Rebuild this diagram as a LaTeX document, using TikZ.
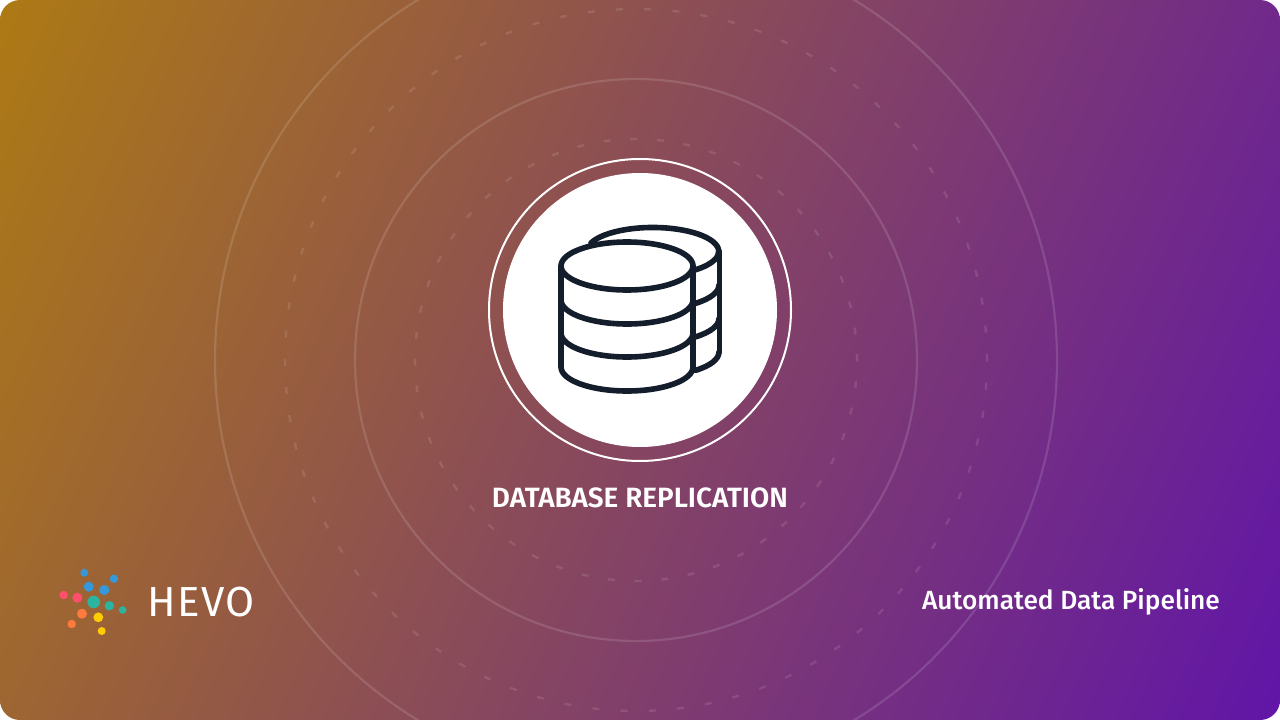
\documentclass[tikz,border=0pt]{standalone}
\usepackage{fontspec}
\setmainfont{Fira Sans}
\newfontfamily\logofont[LetterSpace=3]{Fira Sans}
\newfontfamily\semifont{Fira Sans SemiBold}
\newfontfamily\medfont{Fira Sans Medium}
\definecolor{gradA}{HTML}{AD7A14}
\definecolor{gradB}{HTML}{6115A8}
\definecolor{ink}{HTML}{141D2B}
\definecolor{dotblue}{HTML}{3498DB}
\definecolor{dotpink}{HTML}{FF4F6D}
\definecolor{dotteal}{HTML}{2BB5A0}
\definecolor{dotorange}{HTML}{FF7A3D}
\definecolor{dotyellow}{HTML}{FFCC00}
\tikzset{
  x=1pt,y=-1pt,
  ringline/.style={draw=white,draw opacity=.13,line width=2.2pt},
  dashring/.style={draw=white,draw opacity=.11,line width=2.4pt},
  dbline/.style={draw=ink,line width=5.6pt,line cap=round,line join=round},
  whitetext/.style={text=white,inner sep=0pt,anchor=base},
}
\begin{document}
\begin{tikzpicture}
\useasboundingbox (0,0) rectangle (1280,720);
\fill[white] (0,0) rectangle (1280,720);
\begin{scope}
  \clip[rounded corners=20pt] (0,0) rectangle (1280,720);
  \begin{scope}[transform canvas={shift={(640,360)},rotate=-24}]
    \shade[left color=gradA,right color=gradB] (-731,-1000) rectangle (731,1000);
  \end{scope}
  \draw[ringline] (636,360) circle[radius=421];
  \draw[ringline] (636,360) circle[radius=281];
  \draw[dashring,dash pattern=on 7pt off 21.27pt,dash phase=5.5pt] (636,360) circle[radius=351];
  \draw[dashring,dash pattern=on 7pt off 19.7pt,dash phase=5.5pt] (636,360) circle[radius=221];
\end{scope}
\draw[white,line width=2pt] (640,310) circle[radius=151];
\fill[white] (640,310) circle[radius=137];
% back cylinder
\draw[dbline] (591,243) arc[start angle=200.7,end angle=410,x radius=66,y radius=24];
\draw[dbline] (719.3,251.5) -- (719.3,352);
\draw[dbline] (719,285) arc[start angle=0,end angle=50,x radius=66,y radius=24];
\draw[dbline] (719,318.5) arc[start angle=0,end angle=50,x radius=66,y radius=24];
\draw[dbline] (719,352) arc[start angle=0,end angle=50,x radius=66,y radius=24];
% front cylinder
\draw[dbline] (627,266) ellipse[x radius=66,y radius=24];
\draw[dbline] (561,266) -- (561,367) arc[start angle=180,end angle=0,x radius=66,y radius=24] -- (693,266);
\draw[dbline] (693,300) arc[start angle=0,end angle=180,x radius=66,y radius=24];
\draw[dbline] (693,333) arc[start angle=0,end angle=180,x radius=66,y radius=24];
% logo dots
\fill[dotblue] (84.3,572.7) circle[radius=3.9];
\fill[dotblue] (114,578.7) circle[radius=4.2];
\fill[dotblue] (88.7,586.7) circle[radius=5];
\fill[dotblue] (104.3,590) circle[radius=5.1];
\fill[dotpink] (63.7,595) circle[radius=4.2];
\fill[dotpink] (77.3,597.7) circle[radius=5];
\fill[dotteal] (93.7,602) circle[radius=6.3];
\fill[dotteal] (109.3,605.7) circle[radius=4.7];
\fill[dotteal] (122.7,610) circle[radius=3.8];
\fill[dotorange] (82,613.7) circle[radius=5];
\fill[dotorange] (71.7,624) circle[radius=4.2];
\fill[dotyellow] (98.3,617.3) circle[radius=4.9];
\fill[dotyellow] (101.7,631) circle[radius=4];
% text
\node[whitetext] (logo) at (201.5,616) {\fontsize{42}{42}\selectfont\logofont HEVO};
\node[whitetext] (title) at (640,507.7) {\fontsize{27.9}{27.9}\selectfont\semifont DATABASE REPLICATION};
\node[whitetext] (tag) at (1071,609) {\fontsize{26.3}{26.3}\selectfont\medfont Automated Data Pipeline};
\end{tikzpicture}
\end{document}
